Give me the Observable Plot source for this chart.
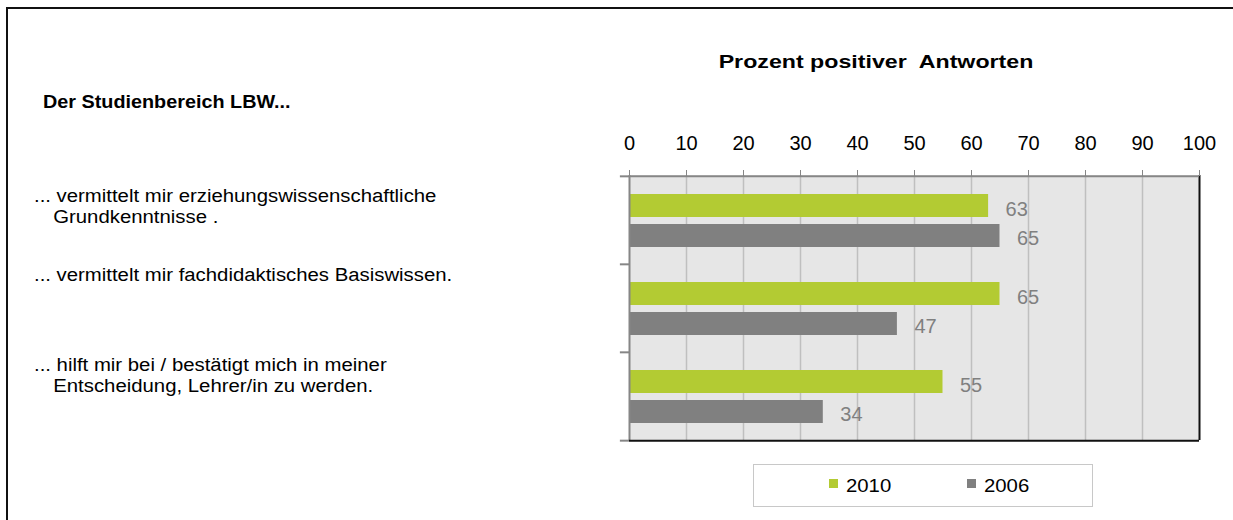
<!DOCTYPE html>
<html>
<head>
<meta charset="utf-8">
<script src="https://cdn.jsdelivr.net/npm/d3@7"></script>
<script src="https://cdn.jsdelivr.net/npm/@observablehq/plot@0.6"></script>
<style>
  html, body { margin: 0; padding: 0; background: #fff; }
  body { font-family: "Liberation Sans", Arial, sans-serif; }
  #wrap { position: relative; width: 1233px; height: 520px; overflow: hidden; }
  #chart { position: absolute; left: 0; top: 0; }
  .frame { position: absolute; left: 6px; top: 7px; width: 1225px; height: 530px;
           border-left: 2px solid #111; border-top: 2px solid #111; border-right: 1px solid #aaa; }
  .txt { position: absolute; font-size: 18px; color: #000; white-space: pre; transform-origin: left center; transform: scaleX(1.10); line-height: 21px; }
  .bold { font-weight: bold; }
  .title { position: absolute; font-size: 19px; font-weight: bold; white-space: pre; transform: translateX(-50%) scaleX(1.22); line-height: 21px; }
  .cat { position: absolute; left: 34px; font-size: 18px; line-height: 21px; white-space: pre; transform-origin: left top; transform: scaleX(1.13); }
  .cat .l2 { display: block; padding-left: 17px; }
  .legend { position: absolute; left: 753px; top: 464px; width: 340px; height: 43px; border: 1.5px solid #c8c8c8; box-sizing: border-box; background: #fff; }
  .legend .item { position: absolute; top: 0; height: 43px; display: flex; align-items: center; font-size: 18px; transform-origin: left center; }
  .legend .sw { width: 9px; height: 9px; margin-right: 8px; margin-top: -6px; }
</style>
</head>
<body>
<div id="wrap">
  <div class="frame"></div>
  <div id="chart"></div>
  <div id="overlay"></div>
</div>
<script>
const categories = [
  "... vermittelt mir erziehungswissenschaftliche\nGrundkenntnisse .",
  "... vermittelt mir fachdidaktisches Basiswissen.",
  "... hilft mir bei / bestätigt mich in meiner\nEntscheidung, Lehrer/in zu werden."
];
const seriesNames = ["2010", "2006"];
const seriesColors = ["#b3cb33", "#808080"];
const values2010 = [63, 65, 55];
const values2006 = [65, 47, 34];
const xTicks = [0, 10, 20, 30, 40, 50, 60, 70, 80, 90, 100];
const gridTicks = [10, 20, 30, 40, 50, 60, 70, 80, 90];
const titleText = "Prozent positiver  Antworten";
const headerText = "Der Studienbereich LBW...";

const d2010 = categories.map((c, i) => ({category: c, value: values2010[i]}));
const d2006 = categories.map((c, i) => ({category: c, value: values2006[i]}));

const height = 520, marginTop = 175, marginBottom = 80;
const half = (height - marginTop - marginBottom) / categories.length / 2;

const chart = Plot.plot({
  width: 1233,
  height,
  marginLeft: 629,
  marginRight: 34,
  marginTop,
  marginBottom,
  x: {domain: [0, 100], axis: null, label: null},
  y: {domain: categories, padding: 0, axis: null, label: null},
  style: {fontFamily: "Liberation Sans, Arial, sans-serif", fontSize: "20px", background: "transparent", overflow: "visible"},
  marks: [
    Plot.frame({fill: "#e6e6e6", stroke: null}),
    Plot.ruleX(gridTicks, {stroke: "#bfbfbf", strokeWidth: 1.5}),
    Plot.barX(d2010, {x: "value", y: "category", fill: seriesColors[0], insetTop: 18, insetBottom: 47}),
    Plot.barX(d2006, {x: "value", y: "category", fill: seriesColors[1], insetTop: 48, insetBottom: 17}),
    Plot.text(d2010, {x: "value", y: "category", text: d => String(d.value), textAnchor: "start", dx: 17, dy: -11, fill: "#808080", fontSize: 20}),
    Plot.text(d2006, {x: "value", y: "category", text: d => String(d.value), textAnchor: "start", dx: 17, dy: 18, fill: "#808080", fontSize: 20}),
    Plot.ruleX([0], {stroke: "#868686", strokeWidth: 2}),
    Plot.ruleX([100], {stroke: "#111", strokeWidth: 2}),
    Plot.ruleY([categories[0]], {dy: -half, stroke: "#868686", strokeWidth: 2}),
    Plot.ruleY([categories[categories.length - 1]], {dy: half, stroke: "#111", strokeWidth: 2}),
    Plot.ruleY(categories, {x1: -1.6, x2: 0, dy: -half, stroke: "#868686", strokeWidth: 2, clip: false}),
    Plot.ruleY([categories[categories.length - 1]], {x1: -1.6, x2: 0, dy: half, stroke: "#868686", strokeWidth: 2, clip: false}),
    Plot.axisX(xTicks, {anchor: "top", label: null, tickSize: 6, tickPadding: 20, stroke: "#868686", fill: "#000", fontSize: 20, tickFormat: d => String(d)})
  ]
});
document.getElementById("chart").appendChild(chart);

const ov = document.getElementById("overlay");
function add(html) { ov.insertAdjacentHTML("beforeend", html); }
add(`<div class="title" style="left:876px; top:51px;">${titleText}</div>`);
add(`<div class="txt bold" style="left:43px; top:92px;">${headerText}</div>`);
const catTops = [186, 265, 355];
categories.forEach((c, i) => {
  const [a, b] = c.split("\n");
  add(`<div class="cat" style="top:${catTops[i]}px;">${a}${b ? `<span class="l2">${b}</span>` : ""}</div>`);
});
add(`<div class="legend">
  <div class="item" style="left:75px;"><span class="sw" style="background:${seriesColors[0]}"></span><span style="display:inline-block;transform:scaleX(1.13);transform-origin:left center;">${seriesNames[0]}</span></div>
  <div class="item" style="left:213px;"><span class="sw" style="background:${seriesColors[1]}"></span><span style="display:inline-block;transform:scaleX(1.13);transform-origin:left center;">${seriesNames[1]}</span></div>
</div>`);
</script>
</body>
</html>
